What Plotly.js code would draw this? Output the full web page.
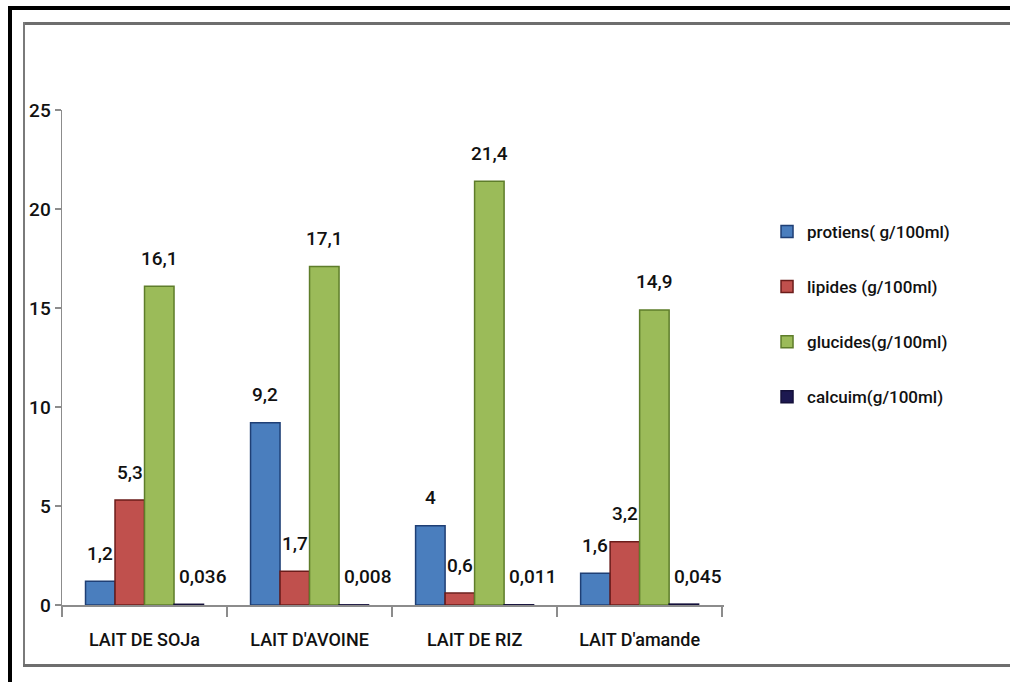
<!DOCTYPE html>
<html>
<head>
<meta charset="utf-8">
<script src="https://cdn.plot.ly/plotly-3.0.1.min.js"></script>
<style>
  html, body { margin: 0; padding: 0; background: #ffffff; overflow: hidden; }
  #wrap { position: relative; width: 1010px; height: 682px; overflow: hidden; background: #ffffff; }
  #chart { position: absolute; left: 0; top: 0; width: 1010px; height: 682px; }
  .outer-top { position: absolute; left: 8px; top: 6px; width: 1002px; height: 4px; background: #000; }
  .outer-left { position: absolute; left: 8px; top: 6px; width: 4px; height: 676px; background: #000; }
  .inner-top { position: absolute; left: 23px; top: 22px; width: 987px; height: 3px; background: #6e6e6e; }
  .inner-left { position: absolute; left: 23px; top: 22px; width: 2px; height: 645px; background: #7a7a7a; }
  .inner-bottom { position: absolute; left: 23px; top: 664px; width: 987px; height: 3px; background: #6e6e6e; }
</style>
</head>
<body>
<div id="wrap">
  <div id="chart"></div>
  <div class="inner-top"></div>
  <div class="inner-left"></div>
  <div class="inner-bottom"></div>
  <div class="outer-top"></div>
  <div class="outer-left"></div>
</div>
<script>
// Nutrient content of plant-based milks (per 100 ml)
const categories = ["LAIT DE SOJa", "LAIT D'AVOINE", "LAIT DE RIZ", "LAIT D'amande"];
const seriesNames = ["protiens( g/100ml)", "lipides (g/100ml)", "glucides(g/100ml)", "calcuim(g/100ml)"];
const proteins = [1.2, 9.2, 4, 1.6];
const lipids   = [5.3, 1.7, 0.6, 3.2];
const glucids  = [16.1, 17.1, 21.4, 14.9];
const calcium  = [0.036, 0.008, 0.011, 0.045];
const yTicks   = [0, 5, 10, 15, 20, 25];

const fillColors = ["#4a7ebe", "#c0504d", "#9bbb59", "#1c1850"];
const edgeColors = ["#1f3f75", "#6b1c1a", "#5e7d2a", "#14103a"];
const labelNudge = [0, 0, 0, 14];   // extra horizontal offset of value labels, px
const FONT = "Roboto, 'Liberation Sans', sans-serif";

const W = 1010, H = 682;
const M = { l: 62, r: 286, t: 110, b: 77 };
const BARGAP = 0.285;

// decimal comma labels, built from the plotted values
const label = v => String(v).replace('.', ',');

const allSeries = [proteins, lipids, glucids, calcium];
const traces = allSeries.map((vals, i) => ({
  type: 'bar',
  name: seriesNames[i],
  x: categories,
  y: vals,
  marker: { color: fillColors[i], line: { color: edgeColors[i], width: 1.5 } },
  legendgroup: 'g' + i,
  hoverinfo: 'skip'
}));

// value labels sit above each bar; horizontal offset follows the grouped bar width
const nSeries = allSeries.length;
const slotPx = (W - M.l - M.r) / categories.length;
const barPx = slotPx * (1 - BARGAP) / nSeries;
const annotations = [];
allSeries.forEach((vals, i) => {
  vals.forEach((v, j) => {
    annotations.push({
      x: categories[j], y: v, xref: 'x', yref: 'y',
      text: label(v), showarrow: false,
      xanchor: 'center', yanchor: 'middle',
      xshift: (i - (nSeries - 1) / 2) * barPx + labelNudge[i],
      yshift: 28,
      font: { family: FONT, size: 19, color: '#111111', weight: 500 }
    });
  });
});

const layout = {
  width: W,
  height: H,
  margin: M,
  paper_bgcolor: '#ffffff',
  plot_bgcolor: '#ffffff',
  barmode: 'group',
  bargap: BARGAP,
  bargroupgap: 0,
  showlegend: true,
  font: { family: FONT, size: 18, color: '#111111' },
  annotations: annotations,
  legend: {
    x: 1.065, y: 0.79, xanchor: 'left', yanchor: 'top',
    font: { family: FONT, size: 17, color: '#111111', weight: 500 },
    tracegroupgap: 30,
    itemwidth: 30,
    bgcolor: 'rgba(0,0,0,0)'
  },
  xaxis: {
    type: 'category',
    showline: true, linecolor: '#8c8c8c', linewidth: 1.5,
    ticks: 'outside', tickson: 'boundaries', ticklen: 10, tickcolor: '#8c8c8c', tickwidth: 1.5,
    ticklabelstandoff: 18,
    tickfont: { family: FONT, size: 18, color: '#111111', weight: 500 },
    showgrid: false, zeroline: false,
    fixedrange: true
  },
  yaxis: {
    range: [0, 25],
    tickvals: yTicks,
    ticktext: yTicks.map(String),
    showline: true, linecolor: '#8c8c8c', linewidth: 1.5,
    ticks: 'outside', ticklen: 6, tickcolor: '#8c8c8c', tickwidth: 1.5,
    tickfont: { family: FONT, size: 19, color: '#111111', weight: 500 },
    showgrid: false, zeroline: false,
    fixedrange: true
  }
};

Plotly.newPlot('chart', traces, layout, { displayModeBar: false, staticPlot: true });
</script>
</body>
</html>
